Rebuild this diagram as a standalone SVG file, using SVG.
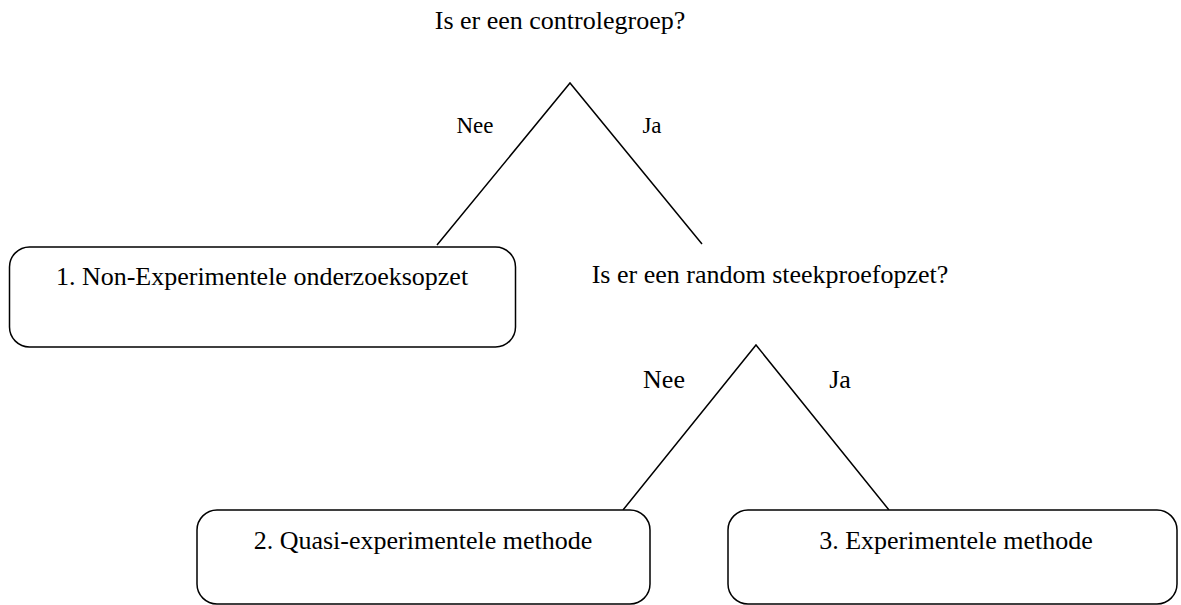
<svg xmlns="http://www.w3.org/2000/svg" width="1181" height="605" viewBox="0 0 1181 605">
<style>
text{font-family:"Liberation Serif","Times New Roman",serif;font-size:26px;fill:#000}
.lbl{font-size:23px}
.box{fill:#fff;stroke:#000;stroke-width:1.5}
.ln{stroke:#000;stroke-width:1.5;fill:none}
</style>
<rect width="1181" height="605" fill="#fff"/>
<g id="connectors">
<polyline class="ln" points="437,245 570,83 702,244"/>
<polyline class="ln" points="623,510 756,345 889,510"/>
</g>
<g id="q1"><text x="560" y="29" text-anchor="middle">Is er een controlegroep?</text></g>
<g id="l1"><text class="lbl" x="475" y="133" text-anchor="middle">Nee</text></g>
<g id="l2"><text class="lbl" x="652" y="133" text-anchor="middle">Ja</text></g>
<g id="q2"><text x="770" y="283" text-anchor="middle">Is er een random steekproefopzet?</text></g>
<g id="l3"><text x="664" y="388" text-anchor="middle">Nee</text></g>
<g id="l4"><text x="840" y="388" text-anchor="middle">Ja</text></g>
<g id="n1"><rect class="box" x="9.5" y="247" width="506" height="100" rx="20"/><text x="262" y="285" text-anchor="middle">1. Non-Experimentele onderzoeksopzet</text></g>
<g id="n2"><rect class="box" x="197" y="510" width="453" height="94" rx="20"/><text x="423" y="549" text-anchor="middle">2. Quasi-experimentele methode</text></g>
<g id="n3"><rect class="box" x="728" y="510" width="449" height="94" rx="20"/><text x="956" y="549" text-anchor="middle">3. Experimentele methode</text></g>
</svg>
